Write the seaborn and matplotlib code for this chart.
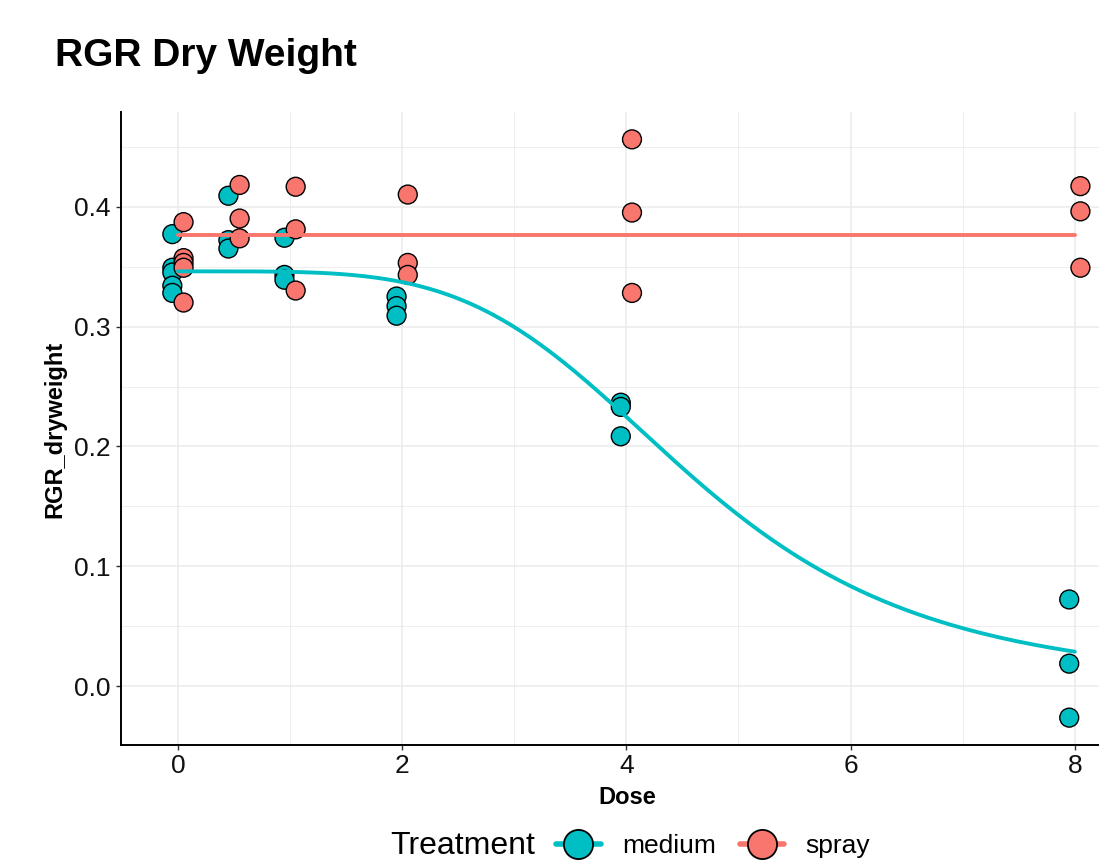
import numpy as np
import pandas as pd
import matplotlib
matplotlib.use("Agg")
import matplotlib.pyplot as plt
import seaborn as sns
from matplotlib.lines import Line2D
from matplotlib.ticker import MultipleLocator

# ---------------- data ----------------
treatments = ["medium", "spray"]
colors = {"medium": "#00BFC4", "spray": "#F8766D"}

medium_dose = [0, 0, 0, 0, 0, 0.5, 0.5, 0.5, 1, 1, 1, 2, 2, 2, 4, 4, 4, 8, 8, 8]
medium_rgr = [0.377, 0.349, 0.345, 0.334, 0.328,
              0.409, 0.372, 0.365,
              0.374, 0.343, 0.339,
              0.325, 0.317, 0.309,
              0.2365, 0.233, 0.2085,
              0.0725, 0.019, -0.026]

spray_dose = [0, 0, 0, 0, 0, 0.5, 0.5, 0.5, 1, 1, 1, 2, 2, 2, 4, 4, 4, 8, 8, 8]
spray_rgr = [0.387, 0.357, 0.353, 0.349, 0.320,
             0.418, 0.390, 0.3735,
             0.4165, 0.381, 0.330,
             0.410, 0.353, 0.343,
             0.456, 0.395, 0.328,
             0.417, 0.396, 0.349]

# fitted log-logistic (LL.3) parameters for medium; spray fit is flat
medium_fit_b = 4.34
medium_fit_d = 0.346
medium_fit_e = 4.61

x_ticks = [0, 2, 4, 6, 8]
y_ticks = [0.0, 0.1, 0.2, 0.3, 0.4]
y_tick_labels = ["0.0", "0.1", "0.2", "0.3", "0.4"]

# ---------------- frames ----------------
dodge = 0.05
pts = pd.concat([
    pd.DataFrame({"Dose": medium_dose, "RGR_dryweight": medium_rgr, "Treatment": "medium",
                  "xpos": np.array(medium_dose) - dodge}),
    pd.DataFrame({"Dose": spray_dose, "RGR_dryweight": spray_rgr, "Treatment": "spray",
                  "xpos": np.array(spray_dose) + dodge}),
], ignore_index=True)

grid = np.linspace(0, 8, 400)
med_pred = medium_fit_d / (1 + np.exp(medium_fit_b * (np.log(np.maximum(grid, 1e-9)) - np.log(medium_fit_e))))
spray_level = float(np.mean(spray_rgr))
fits = pd.concat([
    pd.DataFrame({"Dose": grid, "RGR_dryweight": med_pred, "Treatment": "medium"}),
    pd.DataFrame({"Dose": grid, "RGR_dryweight": np.full_like(grid, spray_level), "Treatment": "spray"}),
], ignore_index=True)

# ---------------- plot ----------------
sns.set_theme(style="white")
plt.rcParams["font.family"] = ["Liberation Sans", "DejaVu Sans"]
plt.rcParams["text.color"] = "black"
plt.rcParams["axes.labelcolor"] = "black"

W, H = 1099, 863
fig = plt.figure(figsize=(W / 100, H / 100), dpi=100)
ax = fig.add_axes([121 / W, (H - 745) / H, (1132 - 121) / W, (745 - 112) / H])

sns.scatterplot(data=pts, x="xpos", y="RGR_dryweight", hue="Treatment",
                hue_order=treatments, palette=colors, s=185,
                edgecolor="black", linewidth=1.0, ax=ax, legend=False, zorder=3)
sns.lineplot(data=fits, x="Dose", y="RGR_dryweight", hue="Treatment",
             hue_order=treatments, palette=colors, linewidth=2.8,
             ax=ax, legend=False, zorder=4)

ax.set_xlim(-0.508, 8.51)
ax.set_ylim(-0.0488, 0.4788)
ax.set_xticks(x_ticks)
ax.set_xticklabels([str(t) for t in x_ticks])
ax.set_yticks(y_ticks)
ax.set_yticklabels(y_tick_labels)
ax.xaxis.set_minor_locator(MultipleLocator(1))
ax.yaxis.set_minor_locator(MultipleLocator(0.05))

ax.grid(True, which="major", color="#EBEBEB", linewidth=1.1, zorder=0)
ax.grid(True, which="minor", color="#EBEBEB", linewidth=0.6, zorder=0)
ax.set_axisbelow(True)

for side in ["top", "right"]:
    ax.spines[side].set_visible(False)
for side in ["left", "bottom"]:
    ax.spines[side].set_color("black")
    ax.spines[side].set_linewidth(1.4)

ax.tick_params(axis="both", which="major", length=3.5, width=1.0, color="#333333",
               labelsize=19, labelcolor="#111111", bottom=True, left=True)
ax.tick_params(axis="x", which="major", pad=3)
ax.tick_params(axis="y", which="major", pad=4)
ax.tick_params(axis="both", which="minor", length=0)

ax.set_xlabel("Dose", fontsize=17, fontweight="bold", va="center", ha="center", color="black")
ax.set_ylabel("RGR_dryweight", fontsize=17, fontweight="bold", va="center", ha="center", color="black")
ax.xaxis.set_label_coords((627 - 121) / 1011, (745 - 797) / 633)
ax.yaxis.set_label_coords((55 - 121) / 1011, (745 - 429) / 633)

fig.text(55 / W, 1 - 66 / H, "RGR Dry Weight", fontsize=28, fontweight="bold",
         ha="left", va="baseline", color="black")

# legend
fig.text(390 / W, 1 - 846 / H, "Treatment", fontsize=23, ha="left", va="center", color="black")
handles = [Line2D([0], [0], color=colors[t], lw=4, marker="o", markersize=21,
                  markerfacecolor=colors[t], markeredgecolor="black", markeredgewidth=1.3)
           for t in treatments]
leg = fig.legend(handles, treatments, loc="center left", bbox_to_anchor=(556 / W, 1 - 846 / H),
                 ncol=2, frameon=False, fontsize=19, handlelength=1.7, handletextpad=0.8,
                 columnspacing=0.9, borderpad=0, borderaxespad=0)
for t in leg.get_texts():
    t.set_color("black")

fig.savefig("out.png", dpi=100)
